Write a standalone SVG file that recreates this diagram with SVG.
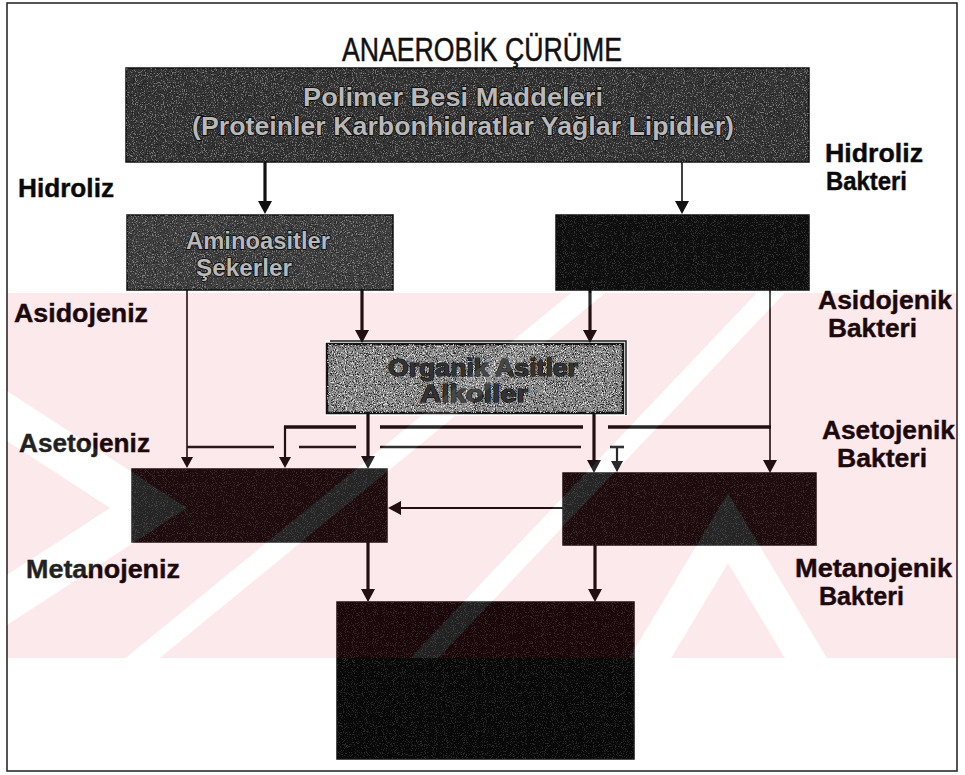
<svg xmlns="http://www.w3.org/2000/svg" width="965" height="775" viewBox="0 0 965 775">
<defs>
<style>
.title{font-family:'Liberation Sans',Arial,sans-serif;font-size:34px;fill:#111;stroke:#111;stroke-width:0.5}
.lbl{font-family:'Liberation Sans',Arial,sans-serif;font-weight:bold;font-size:25px;fill:#0a0a0a;stroke:#0a0a0a;stroke-width:0.4}
.btxt{font-family:'Liberation Sans',Arial,sans-serif;font-weight:bold;fill:#b8b8b8;stroke:#050505;stroke-width:1.6;paint-order:stroke}
.otxt{font-family:'Liberation Sans',Arial,sans-serif;font-weight:bold;fill:#333;stroke:#000;stroke-width:1;paint-order:stroke}
.bx{stroke:#111;stroke-width:1.5}
.thick{stroke:#111;stroke-width:3.2;fill:none}
.thin{stroke:#111;stroke-width:1.6;fill:none}
</style>
<filter id="lt" x="0" y="0" width="1" height="1">
<feTurbulence type="fractalNoise" baseFrequency="0.9" numOctaves="2" seed="4"/>
<feColorMatrix type="matrix" values="0 0 0 0 1 0 0 0 0 1 0 0 0 0 1 9 0 0 0 -5"/>
</filter>
<filter id="dk" x="0" y="0" width="1" height="1">
<feTurbulence type="fractalNoise" baseFrequency="0.9" numOctaves="2" seed="9"/>
<feColorMatrix type="matrix" values="0 0 0 0 0 0 0 0 0 0 0 0 0 0 0 0 9 0 0 -5"/>
</filter>
<marker id="ah" viewBox="0 0 13 14" refX="7" refY="7" markerWidth="13" markerHeight="14" markerUnits="userSpaceOnUse" orient="auto"><path d="M0,0 L13,7 L0,14 Z" fill="#111"/></marker>
<marker id="ahs" viewBox="0 0 11 12" refX="6" refY="6" markerWidth="11" markerHeight="12" markerUnits="userSpaceOnUse" orient="auto"><path d="M0,0 L11,6 L0,12 Z" fill="#111"/></marker>
<clipPath id="band"><rect x="7" y="293" width="950" height="365"/></clipPath>
<mask id="wmask" maskUnits="userSpaceOnUse" x="0" y="0" width="965" height="775">
<rect x="0" y="0" width="965" height="775" fill="#fff"/>
<g fill="#000">
<polygon points="-50,354 187,508 -50,662 -50,612 110,508 -50,404"/>
<polygon points="587,280 621,280 145,670 111,670"/>
<polygon points="769,280 797,280 427,670 399,670"/>
<polygon points="728,493 834,670 792,670 728,563 664,670 622,670"/>
<rect x="325" y="340" width="303" height="76"/>
</g>
</mask>
</defs>
<rect x="0" y="0" width="965" height="775" fill="#fff"/>
<rect x="7" y="3" width="950" height="768" fill="none" stroke="#2a2a2a" stroke-width="1.6"/>
<text class="title" x="342" y="61" textLength="280" lengthAdjust="spacingAndGlyphs">ANAEROBİK ÇÜRÜME</text>

<g id="node-polimer">
<rect class="bx" x="126" y="68" width="683" height="94" fill="#333"/>
<rect x="126" y="68" width="683" height="94" filter="url(#lt)" opacity="0.35"/>
<rect x="126" y="68" width="683" height="94" filter="url(#dk)" opacity="0.4"/>
<text class="btxt" font-size="26" x="303" y="106" textLength="300" lengthAdjust="spacingAndGlyphs">Polimer Besi Maddeleri</text>
<text class="btxt" font-size="26" x="192" y="135" textLength="542" lengthAdjust="spacingAndGlyphs">(Proteinler Karbonhidratlar Yağlar Lipidler)</text>
</g>
<g id="node-aminoasit">
<rect class="bx" x="127" y="215" width="266" height="75" fill="#3e3e3e"/>
<rect x="127" y="215" width="266" height="75" filter="url(#lt)" opacity="0.35"/>
<rect x="127" y="215" width="266" height="75" filter="url(#dk)" opacity="0.4"/>
<text class="btxt" font-size="24" x="186" y="249" textLength="144" lengthAdjust="spacingAndGlyphs">Aminoasitler</text>
<text class="btxt" font-size="24" x="196" y="276" textLength="96" lengthAdjust="spacingAndGlyphs">Şekerler</text>
</g>
<g id="node-yag">
<rect class="bx" x="556" y="215" width="253" height="75" fill="#0e0e0e"/>
<rect x="556" y="215" width="253" height="75" filter="url(#lt)" opacity="0.15"/>
</g>
<g id="node-organik">
<rect x="327" y="344" width="296" height="69" fill="#888" stroke="#141414" stroke-width="2.5"/>
<rect x="327" y="344" width="296" height="69" filter="url(#lt)" opacity="0.75"/>
<rect x="327" y="344" width="296" height="69" filter="url(#dk)" opacity="0.7"/>
<polyline points="330,341 626,341 626,415" fill="none" stroke="#1a1a1a" stroke-width="1.5"/>
<text class="otxt" font-size="24" x="388" y="376" textLength="190" lengthAdjust="spacingAndGlyphs">Organik Asitler</text>
<text class="otxt" font-size="24" x="420" y="402" textLength="108" lengthAdjust="spacingAndGlyphs">Alkoller</text>
</g>
<g id="node-asetat">
<rect class="bx" x="132" y="469" width="255" height="73" fill="#0d0d0d"/>
<rect x="132" y="469" width="255" height="73" filter="url(#lt)" opacity="0.12"/>
</g>
<g id="node-hidrojen">
<rect class="bx" x="563" y="473" width="253" height="72" fill="#0d0d0d"/>
<rect x="563" y="473" width="253" height="72" filter="url(#lt)" opacity="0.12"/>
</g>
<g id="node-metan">
<rect class="bx" x="337" y="602" width="297" height="157" fill="#080808"/>
<rect x="337" y="602" width="297" height="157" filter="url(#lt)" opacity="0.12"/>
</g>

<g id="connectors">
<line class="thick" x1="265" y1="162" x2="265" y2="208" marker-end="url(#ah)"/>
<line class="thin" x1="682" y1="162" x2="682" y2="208" marker-end="url(#ah)"/>
<line class="thick" x1="362" y1="290" x2="362" y2="337" marker-end="url(#ah)"/>
<line class="thick" x1="590" y1="290" x2="590" y2="337" marker-end="url(#ah)"/>
<line class="thin" x1="187" y1="290" x2="187" y2="463" marker-end="url(#ahs)"/>
<line class="thin" x1="770" y1="290" x2="770" y2="467" marker-end="url(#ah)"/>
<line class="thick" x1="368" y1="413" x2="368" y2="463" marker-end="url(#ah)"/>
<line class="thick" x1="594" y1="413" x2="594" y2="467" marker-end="url(#ah)"/>
<g stroke="#111" stroke-width="3.6">
<line x1="284" y1="427" x2="356" y2="427"/>
<line x1="380" y1="427" x2="583" y2="427"/>
<line x1="608" y1="427" x2="771" y2="427"/>
</g>
<line x1="285" y1="426" x2="285" y2="463" stroke="#111" stroke-width="2.2" marker-end="url(#ahs)"/>
<g stroke="#1a1a1a" stroke-width="2.6">
<line x1="187" y1="447" x2="274" y2="447"/>
<line x1="299" y1="447" x2="356" y2="447"/>
<line x1="380" y1="447" x2="581" y2="447"/>
<line x1="610" y1="447" x2="624" y2="447"/>
</g>
<line x1="617" y1="447" x2="617" y2="467" stroke="#111" stroke-width="2.2" marker-end="url(#ahs)"/>
<line x1="563" y1="508" x2="394" y2="508" stroke="#111" stroke-width="2" marker-end="url(#ah)"/>
<line class="thick" x1="368" y1="542" x2="368" y2="596" marker-end="url(#ah)"/>
<line class="thick" x1="595" y1="545" x2="595" y2="596" marker-end="url(#ah)"/>
</g>

<g id="labels">
<text class="lbl" x="18" y="197" textLength="96" lengthAdjust="spacingAndGlyphs">Hidroliz</text>
<text class="lbl" x="825" y="162" textLength="98" lengthAdjust="spacingAndGlyphs">Hidroliz</text>
<text class="lbl" x="826" y="190" textLength="81" lengthAdjust="spacingAndGlyphs">Bakteri</text>
<text class="lbl" x="14" y="322" textLength="134" lengthAdjust="spacingAndGlyphs">Asidojeniz</text>
<text class="lbl" x="818" y="309" textLength="134" lengthAdjust="spacingAndGlyphs">Asidojenik</text>
<text class="lbl" x="828" y="337" textLength="89" lengthAdjust="spacingAndGlyphs">Bakteri</text>
<text class="lbl" x="19" y="452" textLength="131" lengthAdjust="spacingAndGlyphs">Asetojeniz</text>
<text class="lbl" x="822" y="439" textLength="133" lengthAdjust="spacingAndGlyphs">Asetojenik</text>
<text class="lbl" x="837" y="467" textLength="90" lengthAdjust="spacingAndGlyphs">Bakteri</text>
<text class="lbl" x="26" y="578" textLength="154" lengthAdjust="spacingAndGlyphs">Metanojeniz</text>
<text class="lbl" x="795" y="577" textLength="157" lengthAdjust="spacingAndGlyphs">Metanojenik</text>
<text class="lbl" x="819" y="605" textLength="85" lengthAdjust="spacingAndGlyphs">Bakteri</text>
</g>

<g id="watermark" clip-path="url(#band)">
<rect x="7" y="293" width="950" height="365" fill="rgb(225,0,40)" fill-opacity="0.085" mask="url(#wmask)"/>
<g fill="#fff" fill-opacity="0.1">
<polygon points="-50,354 187,508 -50,662 -50,612 110,508 -50,404"/>
<polygon points="587,280 621,280 145,670 111,670"/>
<polygon points="769,280 797,280 427,670 399,670"/>
<polygon points="728,493 834,670 792,670 728,563 664,670 622,670"/>
</g>
</g>
</svg>
